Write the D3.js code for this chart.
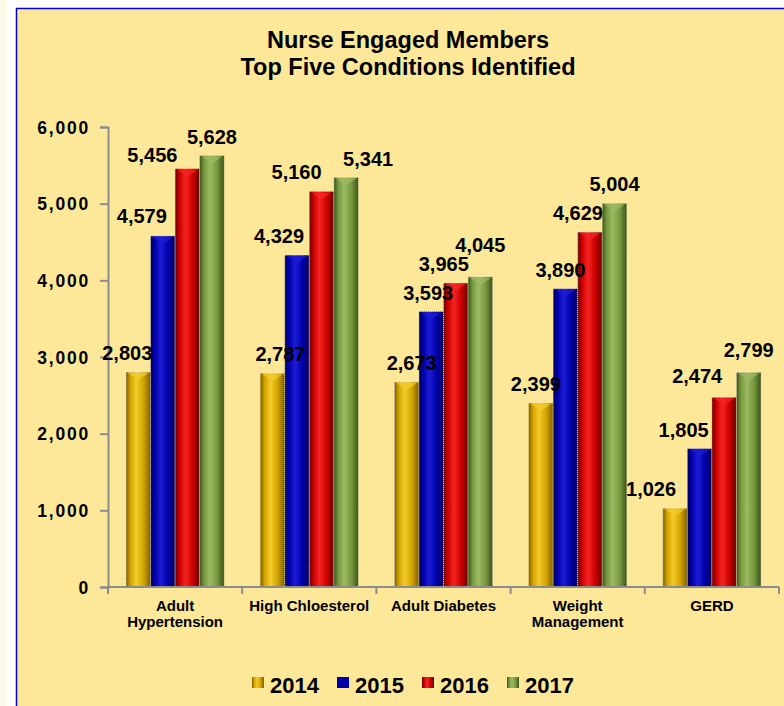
<!DOCTYPE html>
<head>
  <meta charset="utf-8">
  <style>
    body { margin: 0; background: #fef8e8; }
    text { font-family: "Liberation Sans", Arial, sans-serif; font-weight: bold; fill: #000; }
  </style>
</head>
<body>
  <script src="https://cdn.jsdelivr.net/npm/d3@7/dist/d3.min.js"></script>
  <script>
    // data
    var categories = ["Adult Hypertension", "High Chloesterol", "Adult Diabetes", "Weight Management", "GERD"];
    var categoryLines = [["Adult", "Hypertension"], ["High Chloesterol"], ["Adult Diabetes"], ["Weight", "Management"], ["GERD"]];
    var years = ["2014", "2015", "2016", "2017"];
    var v2014 = [2803, 2787, 2673, 2399, 1026];
    var v2015 = [4579, 4329, 3593, 3890, 1805];
    var v2016 = [5456, 5160, 3965, 4629, 2474];
    var v2017 = [5628, 5341, 4045, 5004, 2799];
    var yTicks = [0, 1000, 2000, 3000, 4000, 5000, 6000];

    // label nudges (dx, dy) so the value labels sit like in the original
    var labelNudge = [
      [[-11, 0], [-21, -1], [-35, 5], [0, 0]],
      [[8, 0], [-18, 0], [-25, 0], [22, 0]],
      [[5, 0], [-3, 0], [-12, 0], [0, -13]],
      [[-5, 0], [-5, 0], [-12, 0], [0, 0]],
      [[-24, 0], [-16, 0], [-27, -2], [0, -3]]
    ];

    var seriesValues = [v2014, v2015, v2016, v2017];
    var colors = [
      {dark: "#7d5f00", mid: "#d2a300", light: "#f3cb2a"},
      {dark: "#000058", mid: "#0000aa", light: "#1c1cd6"},
      {dark: "#6a0000", mid: "#cc0000", light: "#f42424"},
      {dark: "#3a5218", mid: "#779840", light: "#9cbb62"}
    ];

    var W = 784, H = 706;
    var plot = {left: 108, right: 779, top: 127, bottom: 587};

    var svg = d3.select("body").append("svg")
      .attr("width", W)
      .attr("height", H);

    // page background + panel
    svg.append("rect").attr("x", 0).attr("y", 0).attr("width", W).attr("height", H).attr("fill", "#fef8e8");
    svg.append("rect").attr("x", 7).attr("y", 0).attr("width", W - 7).attr("height", H).attr("fill", "#ffffff");
    svg.append("rect").attr("x", 16.5).attr("y", 8.5).attr("width", W).attr("height", H)
      .attr("fill", "#fde89a").attr("stroke", "#0000d0").attr("stroke-width", 1.5);

    // gradients for the cylinder look
    var defs = svg.append("defs");
    colors.forEach(function(c, i) {
      var g = defs.append("linearGradient").attr("id", "grad" + i)
        .attr("x1", "0%").attr("x2", "100%").attr("y1", "0%").attr("y2", "0%");
      g.append("stop").attr("offset", "0%").attr("stop-color", c.dark);
      g.append("stop").attr("offset", "18%").attr("stop-color", c.mid);
      g.append("stop").attr("offset", "42%").attr("stop-color", c.light);
      g.append("stop").attr("offset", "72%").attr("stop-color", c.mid);
      g.append("stop").attr("offset", "100%").attr("stop-color", c.dark);
    });

    // scales
    var x0 = d3.scaleBand().domain(categories).range([plot.left, plot.right]).padding(0);
    var x1 = d3.scaleBand().domain(years).range([18, x0.bandwidth() - 18]).padding(0);
    var y = d3.scaleLinear().domain([0, 6000]).range([plot.bottom, plot.top]);

    // title
    var title = svg.append("text").attr("text-anchor", "middle").style("font-size", "23.5px");
    title.append("tspan").attr("x", 408).attr("y", 48).text("Nurse Engaged Members");
    title.append("tspan").attr("x", 408).attr("y", 75).text("Top Five Conditions Identified");

    // flat list of bar cells
    var cellData = [];
    categories.forEach(function(c, ci) {
      years.forEach(function(yr, si) {
        cellData.push({cat: c, year: yr, si: si, ci: ci, value: seriesValues[si][ci]});
      });
    });
    function barX(d) { return x0(d.cat) + x1(d.year); }

    // bars
    var barLayer = svg.append("g");
    barLayer.selectAll("rect")
      .data(cellData)
      .enter().append("rect")
      .attr("x", barX)
      .attr("y", function(d) { return y(d.value); })
      .attr("width", x1.bandwidth())
      .attr("height", function(d) { return y(0) - y(d.value); })
      .attr("fill", function(d) { return "url(#grad" + d.si + ")"; })
      .attr("stroke", "#e8e0c8")
      .attr("stroke-width", 0.8)
      .attr("stroke-dasharray", "1,1");

    // top bevel chevron
    barLayer.selectAll("path")
      .data(cellData)
      .enter().append("path")
      .attr("d", function(d) {
        var bx = barX(d), by = y(d.value), bw = x1.bandwidth();
        return "M" + (bx + 2) + "," + (by + 1) + "L" + (bx + bw - 2) + "," + (by + 1) +
          "L" + (bx + bw / 2) + "," + (by + 8) + "Z";
      })
      .attr("fill", function(d) { return colors[d.si].light; })
      .attr("opacity", 0.75);

    // y axis
    var yAxis = d3.axisLeft(y).tickValues(yTicks).tickSize(8).tickFormat(d3.format(","));
    var gy = svg.append("g")
      .attr("transform", "translate(" + plot.left + ",0)")
      .call(yAxis);
    gy.select(".domain").attr("stroke", "#8c8c8c").attr("stroke-width", 2);
    gy.selectAll(".tick line").attr("stroke", "#8c8c8c").attr("stroke-width", 2);
    gy.selectAll(".tick text")
      .attr("x", -18)
      .attr("dy", "0.36em")
      .style("font-size", "17.5px")
      .style("letter-spacing", "1.8px")
      .style("font-family", "'Liberation Sans', Arial, sans-serif")
      .style("font-weight", "bold")
      .attr("fill", "#000");

    // x axis line with ticks at category boundaries
    var xAxisG = svg.append("g");
    xAxisG.append("line")
      .attr("x1", plot.left).attr("x2", plot.right)
      .attr("y1", y(0)).attr("y2", y(0))
      .attr("stroke", "#8c8c8c").attr("stroke-width", 2);
    var bounds = categories.map(function(c) { return x0(c); }).concat([x0(categories[categories.length - 1]) + x0.bandwidth()]);
    xAxisG.selectAll(".xt")
      .data(bounds)
      .enter().append("line")
      .attr("x1", function(d) { return d; }).attr("x2", function(d) { return d; })
      .attr("y1", y(0)).attr("y2", y(0) + 7)
      .attr("stroke", "#8c8c8c").attr("stroke-width", 2);

    // category labels
    xAxisG.selectAll(".cat")
      .data(categories)
      .enter().append("text")
      .attr("text-anchor", "middle")
      .style("font-size", "15px")
      .each(function(d, i) {
        var t = d3.select(this);
        categoryLines[i].forEach(function(line, li) {
          t.append("tspan")
            .attr("x", x0(d) + x0.bandwidth() / 2)
            .attr("y", 611 + li * 16)
            .text(line);
        });
      });

    // value labels on top of everything
    svg.append("g").selectAll("text")
      .data(cellData)
      .enter().append("text")
      .attr("text-anchor", "middle")
      .style("font-size", "20px")
      .attr("x", function(d) { return barX(d) + x1.bandwidth() / 2 + labelNudge[d.ci][d.si][0]; })
      .attr("y", function(d) { return y(d.value) - 12 + labelNudge[d.ci][d.si][1]; })
      .text(function(d) { return d3.format(",")(d.value); });

    // legend
    var legend = svg.append("g").selectAll("g")
      .data(years)
      .enter().append("g")
      .attr("transform", function(d, i) { return "translate(" + (252 + i * 85) + ",0)"; });
    legend.append("rect")
      .attr("x", 0).attr("y", 677)
      .attr("width", 12).attr("height", 11)
      .attr("fill", function(d, i) { return i == 1 ? colors[1].mid : "url(#grad" + i + ")"; });
    legend.append("text")
      .attr("x", 18).attr("y", 693)
      .style("font-size", "22px")
      .text(function(d) { return d; });
  </script>
</body>
